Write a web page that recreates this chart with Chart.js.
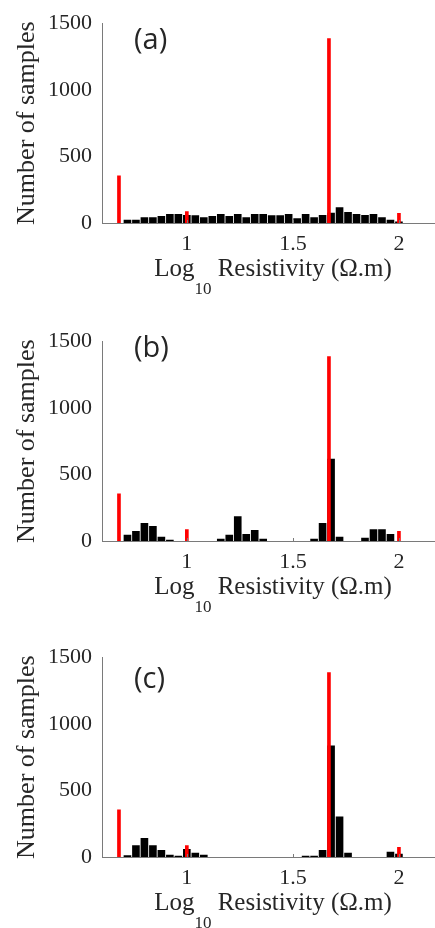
<!DOCTYPE html>
<html>
<head>
<meta charset="utf-8">
<script src="https://cdn.jsdelivr.net/npm/chart.js@4.4.1/dist/chart.umd.min.js"></script>
<style>
  html, body { margin: 0; padding: 0; background: #fff; width: 435px; height: 928px; overflow: hidden; }
  canvas { position: absolute; left: 0; }
</style>
</head>
<body>
<canvas id="chartA" width="435" height="310" style="top:0px"></canvas>
<canvas id="chartB" width="435" height="310" style="top:318px"></canvas>
<canvas id="chartC" width="435" height="310" style="top:634px"></canvas>
<script>
// histogram bin centres (log10 resistivity)
const binCenters = [0.72, 0.76, 0.80, 0.84, 0.88, 0.92, 0.96, 1.00, 1.04, 1.08, 1.12,
    1.16, 1.20, 1.24, 1.28, 1.32, 1.36, 1.40, 1.44, 1.48, 1.52, 1.56, 1.60, 1.64,
    1.68, 1.72, 1.76, 1.80, 1.84, 1.88, 1.92, 1.96, 2.00];

const countsA = [24, 24, 43, 43, 53, 68, 68, 60, 58, 43, 53, 68, 53, 68, 43, 68, 68,
    58, 58, 68, 36, 68, 43, 60, 77, 118, 82, 68, 60, 68, 43, 24, 12];
const countsB = [46, 75, 135, 113, 31, 10, 0, 0, 0, 0, 0, 17, 46, 186, 53, 82, 17,
    0, 0, 0, 0, 0, 17, 135, 618, 31, 0, 0, 24, 89, 89, 53, 0];
const countsC = [14, 89, 142, 89, 53, 17, 10, 60, 31, 17, 0, 0, 0, 0, 0, 0, 0,
    0, 0, 0, 0, 10, 10, 53, 838, 304, 31, 0, 0, 0, 0, 39, 24];

// reference (red) lines
const refX = [0.68, 1.00, 1.67, 2.00];
const refCounts = [355, 85, 1384, 73];

const xTicks = [1, 1.5, 2];
const yTicks = [0, 500, 1000, 1500];

const serif = "'Liberation Serif', 'Times New Roman', serif";
const textColor = '#262626';
const axisColor = '#7a7a7a';

Chart.defaults.font.family = serif;
Chart.defaults.color = textColor;

// draws the panel letter, the x title with its subscript and small inward x ticks
const extrasPlugin = {
    id: 'extras',
    afterDraw(chart, args, opts) {
        const ctx = chart.ctx;
        const area = chart.chartArea;
        const xs = chart.scales.x;
        ctx.save();

        ctx.strokeStyle = axisColor;
        ctx.lineWidth = 1;
        xTicks.forEach(v => {
            const px = Math.round(xs.getPixelForValue(v)) + 0.5;
            ctx.beginPath();
            ctx.moveTo(px, area.bottom);
            ctx.lineTo(px, area.bottom - 3);
            ctx.stroke();
        });

        ctx.fillStyle = textColor;
        ctx.textBaseline = 'middle';
        ctx.textAlign = 'left';
        ctx.font = "29px 'Open Sans', sans-serif";
        ctx.fillText(opts.label, 134, opts.labelY);

        const big = '25px ' + serif;
        const small = '17px ' + serif;
        ctx.textBaseline = 'alphabetic';
        ctx.font = big;
        const w1 = ctx.measureText('Log').width;
        const w3 = ctx.measureText(' Resistivity (\u03A9.m)').width;
        ctx.font = small;
        const w2 = ctx.measureText('10').width;
        let x = 273 - (w1 + w2 + w3) / 2;
        const base = area.bottom + 53;
        ctx.font = big;
        ctx.fillText('Log', x, base);
        x += w1;
        ctx.font = small;
        ctx.fillText('10', x, base + 18);
        x += w2;
        ctx.font = big;
        ctx.fillText(' Resistivity (\u03A9.m)', x, base);
        ctx.restore();
    }
};

function makeChart(id, counts, label, labelY) {
    return new Chart(document.getElementById(id), {
        type: 'bar',
        data: {
            datasets: [
                {
                    data: refX.map((x, i) => ({ x: x, y: refCounts[i] })),
                    backgroundColor: '#ff0000',
                    barThickness: 3,
                    grouped: false,
                    xAxisID: 'x2'
                },
                {
                    data: binCenters.map((x, i) => ({ x: x, y: counts[i] })),
                    backgroundColor: '#000000',
                    barPercentage: 0.9,
                    categoryPercentage: 1,
                    grouped: false,
                    xAxisID: 'x'
                }
            ]
        },
        options: {
            responsive: false,
            animation: false,
            layout: { padding: { top: 16, right: 0, left: 0, bottom: 0 } },
            plugins: {
                legend: { display: false },
                tooltip: { enabled: false },
                extras: { label: label, labelY: labelY }
            },
            scales: {
                x: {
                    type: 'linear',
                    min: 0.6,
                    max: 2.17,
                    offset: false,
                    grid: { display: false, drawTicks: false },
                    border: { color: axisColor, width: 1 },
                    afterBuildTicks: s => { s.ticks = xTicks.map(v => ({ value: v })); },
                    afterFit: s => { s.height = 87; },
                    ticks: {
                        padding: 8,
                        color: textColor,
                        font: { family: serif, size: 22 },
                        maxRotation: 0,
                        callback: v => String(v)
                    }
                },
                x2: {
                    type: 'linear',
                    min: 0.6,
                    max: 2.17,
                    offset: false,
                    display: false
                },
                y: {
                    min: 0,
                    max: 1500,
                    grid: { display: false, drawTicks: false },
                    border: { color: axisColor, width: 1 },
                    afterBuildTicks: s => { s.ticks = yTicks.map(v => ({ value: v })); },
                    afterFit: s => { s.width = 102; },
                    ticks: {
                        padding: 10,
                        color: textColor,
                        font: { family: serif, size: 22 },
                        callback: v => String(v)
                    },
                    title: {
                        display: true,
                        text: 'Number of samples',
                        color: textColor,
                        font: { family: serif, size: 26 },
                        padding: { top: 12, bottom: 0 }
                    }
                }
            }
        },
        plugins: [extrasPlugin]
    });
}

makeChart('chartA', countsA, '(a)', 41);
makeChart('chartB', countsB, '(b)', 31);
makeChart('chartC', countsC, '(c)', 46);
</script>
</body>
</html>
